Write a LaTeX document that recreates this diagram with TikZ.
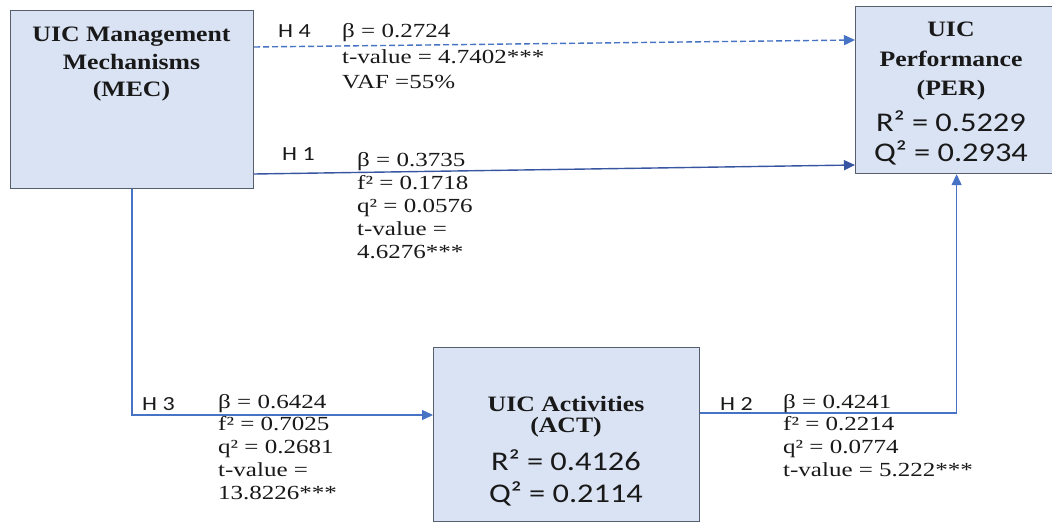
\documentclass[tikz,border=0pt]{standalone}
\usepackage{fontspec}
\usetikzlibrary{arrows.meta,calc}
\newfontfamily\statfont[FakeStretch=1.25]{Liberation Serif}
\newfontfamily\titlefont[FakeStretch=1.17]{Liberation Serif}
\newfontfamily\labfont[FakeStretch=1.2]{Carlito}
\newcommand\cstack[1]{\vtop{\lineskiplimit=-100pt\lineskip=0pt\halign{\hfil##\hfil\cr#1\crcr}}}
\newcommand\lstack[1]{\vtop{\lineskiplimit=-100pt\lineskip=0pt\halign{##\hfil\cr#1\crcr}}}
\definecolor{boxfill}{RGB}{218,227,243}
\definecolor{boxline}{RGB}{85,95,110}
\definecolor{arrowblue}{RGB}{70,115,196}
\definecolor{darkblue}{RGB}{55,85,160}
\definecolor{ink}{RGB}{25,25,25}
\begin{document}
\begin{tikzpicture}[x=1pt,y=1pt,
 box/.style={draw=boxline, fill=boxfill, line width=1.2pt, inner sep=0},
 conn/.style={draw=arrowblue, line width=1.4pt, -{Triangle[length=11pt,width=10pt]}},
 hlab/.style={font=\labfont\fontsize{20}{24}\selectfont, text=ink, inner sep=0, anchor=base west},
 stat/.style={font=\statfont\fontsize{20}{22.8}\selectfont, text=ink, inner sep=0, anchor=base west},
 title/.style={font=\titlefont\bfseries\fontsize{22}{27.5}\selectfont, text=ink, inner sep=0, anchor=base},
 bstat/.style={font=\labfont\fontsize{27}{30}\selectfont, text=ink, inner sep=0, anchor=base}]
\useasboundingbox (0,0) rectangle (1052,523);
\fill[white] (0,0) rectangle (1052,523);
% boxes
\node[box, anchor=north west, minimum width=243pt, minimum height=178pt] (MEC) at (10,513) {};
\node[box, anchor=north west, minimum width=202pt, minimum height=167pt] (PER) at (855,517) {};
\node[box, anchor=north west, minimum width=266pt, minimum height=174pt] (ACT) at (433,176) {};
% box texts
\node[title] (MECt) at (131.5,481) {\cstack{UIC Management\cr Mechanisms\cr (MEC)}};
\node[title, font=\titlefont\bfseries\fontsize{22}{29.5}\selectfont] (PERt) at (951,486) {\cstack{UIC\cr Performance\cr (PER)}};
\node[bstat] (PERs) at (951,391) {\cstack{R² = 0.5229\cr Q² = 0.2934}};
\node[title, font=\titlefont\bfseries\fontsize{22}{21.5}\selectfont] (ACTt) at (566,112) {\cstack{UIC Activities\cr (ACT)}};
\node[bstat, font=\labfont\fontsize{27}{32.5}\selectfont] (ACTs) at (566,53) {\cstack{R² = 0.4126\cr Q² = 0.2114}};
% connectors
\path (MEC.north east) ++(0,-37) coordinate (h4a);
\path (PER.north west) ++(0,-34) coordinate (h4b);
\path (MEC.north east) ++(0,-164) coordinate (h1a);
\path (PER.north west) ++(0,-159) coordinate (h1b);
\path (ACT.north west) ++(0,-68) coordinate (h3b);
\path (ACT.north east) ++(0,-66) coordinate (h2a);
\draw[conn, dash pattern=on 6pt off 3pt] (h4a) -- (h4b);
\draw[conn, draw=darkblue] (h1a) -- (h1b);
\draw[conn] (MEC.south) |- (h3b);
\draw[conn] (h2a) -| (PER.south);
% hypothesis labels
\node[hlab] (L4) at (278,485) {H 4};
\node[hlab] (L1) at (282,362) {H 1};
\node[hlab] (L3) at (142,113) {H 3};
\node[hlab] (L2) at (720,113) {H 2};
% statistics
\node[stat, font=\statfont\fontsize{20}{25.5}\selectfont] (S4) at (342,485) {\lstack{β = 0.2724\cr t-value = 4.7402***\cr VAF =55\%}};
\node[stat] (S1) at (357,356) {\lstack{β = 0.3735\cr f² = 0.1718\cr q² = 0.0576\cr t-value =\cr 4.6276***}};
\node[stat] (S3) at (218,115) {\lstack{β = 0.6424\cr f² = 0.7025\cr q² = 0.2681\cr t-value =\cr 13.8226***}};
\node[stat] (S2) at (783,115) {\lstack{β = 0.4241\cr f² = 0.2214\cr q² = 0.0774\cr t-value = 5.222***}};
\end{tikzpicture}
\end{document}
